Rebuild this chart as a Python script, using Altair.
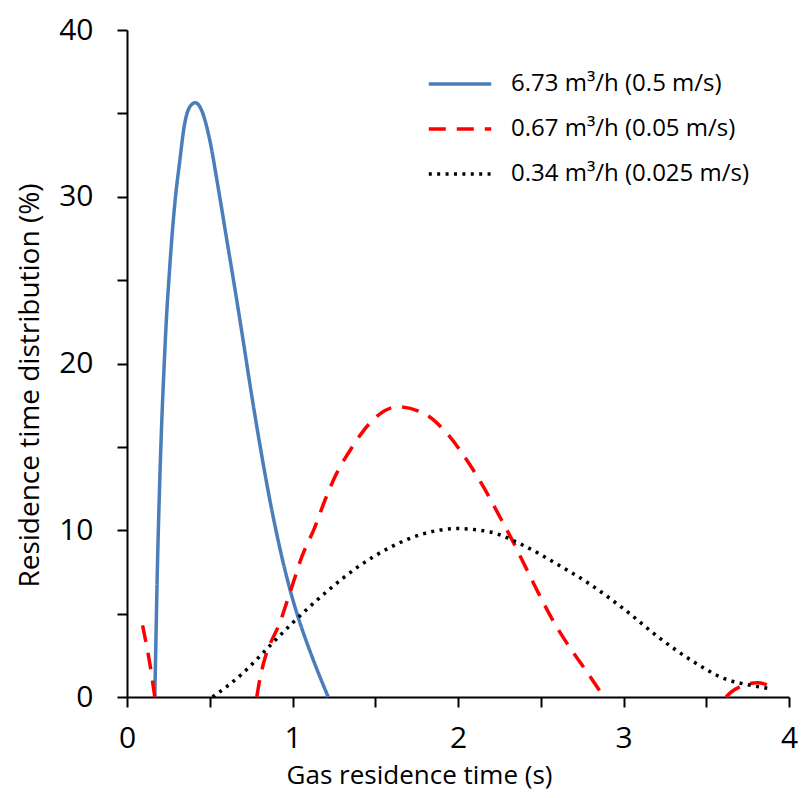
import altair as alt
import pandas as pd

series_names = ["6.73 m³/h (0.5 m/s)", "0.67 m³/h (0.05 m/s)", "0.34 m³/h (0.025 m/s)"]
series_colors = ["#4a7ebb", "#ff0000", "#000000"]
series_dashes = [[1, 0], [17, 11], [3, 5.4]]

# 6.73 m3/h
blue_x = [0.168, 0.175, 0.182, 0.195, 0.21, 0.225, 0.24, 0.253, 0.267, 0.293, 0.317, 0.347,
          0.38, 0.413, 0.45, 0.50, 0.55, 0.60, 0.65, 0.70, 0.75, 0.80, 0.85, 0.90, 0.95,
          1.00, 1.05, 1.10, 1.15, 1.216]
blue_y = [0.0, 3.5, 7.0, 12.0, 16.5, 20.0, 23.0, 25.0, 27.0, 30.0, 32.0, 34.3,
          35.4, 35.64, 35.2, 33.4, 30.6, 27.6, 24.6, 21.5, 18.3, 15.3, 12.5, 10.0, 7.8,
          5.9, 4.3, 2.9, 1.6, 0.0]

# 0.67 m3/h (three pieces)
red_seg = [0, 0, 0] + [1] * 23 + [2] * 4
red_x = [0.094, 0.138, 0.168,
         0.784, 0.796, 0.936, 0.996, 1.056, 1.136, 1.196, 1.266, 1.355, 1.465, 1.635, 1.795,
         1.934, 2.054, 2.154, 2.253, 2.333, 2.413, 2.493, 2.573, 2.673, 2.772, 2.882,
         3.62, 3.651, 3.81, 3.90]
red_y = [4.3, 2.0, 0.0,
         0.0, 0.7, 4.8, 6.6, 8.4, 10.2, 11.8, 13.4, 14.9, 16.4, 17.4, 17.0,
         15.8, 14.2, 12.6, 10.8, 9.3, 7.7, 6.1, 4.6, 3.0, 1.6, 0.0,
         0.0, 0.3, 0.86, 0.58]

# 0.34 m3/h
black_x = [0.517, 0.697, 0.856, 0.996, 1.216, 1.395, 1.595, 1.795, 1.994, 2.193, 2.393,
           2.593, 2.792, 3.012, 3.21, 3.41, 3.61, 3.77, 3.88]
black_y = [0.0, 1.4, 3.0, 4.4, 6.4, 7.8, 9.0, 9.8, 10.1, 9.9, 9.1,
           8.0, 6.8, 5.2, 3.6, 2.2, 1.1, 0.7, 0.5]

rows = []
for x, y in zip(blue_x, blue_y):
    rows.append({"t": x, "v": y, "s": series_names[0], "seg": "b"})
for x, y, g in zip(red_x, red_y, red_seg):
    rows.append({"t": x, "v": y, "s": series_names[1], "seg": f"r{g}"})
for x, y in zip(black_x, black_y):
    rows.append({"t": x, "v": y, "s": series_names[2], "seg": "k"})
df = pd.DataFrame(rows)

font = "Open Sans"

legend = alt.Legend(title=None, orient="none", legendX=300, legendY=21,
                    symbolType="stroke", symbolSize=3900, symbolStrokeWidth=3.5,
                    labelFont=font, labelFontSize=24, labelColor="black", labelLimit=400,
                    rowPadding=-2, labelOffset=18)

chart = alt.Chart(df).mark_line(strokeWidth=3.5, interpolate="monotone", strokeCap="butt").encode(
    x=alt.X("t:Q", scale=alt.Scale(domain=[0, 4], nice=False),
            axis=alt.Axis(title="Gas residence time (s)",
                          values=[0, 0.5, 1, 1.5, 2, 2.5, 3, 3.5, 4],
                          labelExpr="datum.value % 1 === 0 ? format(datum.value, 'd') : ''",
                          labelFlush=False, labelOverlap=False,
                          grid=False, domainColor="black", domainWidth=2,
                          tickColor="black", tickWidth=2, tickSize=10,
                          labelFont=font, labelFontSize=30, labelColor="black",
                          labelPadding=16, titleFont=font, titleFontSize=26,
                          titleFontWeight="normal", titleColor="black",
                          titleX=292, titleY=78, titleBaseline="middle", titleAlign="center")),
    y=alt.Y("v:Q", scale=alt.Scale(domain=[0, 40], nice=False),
            axis=alt.Axis(title="Residence time distribution (%)",
                          values=[0, 5, 10, 15, 20, 25, 30, 35, 40],
                          labelExpr="datum.value % 10 === 0 ? format(datum.value, 'd') : ''",
                          labelFlush=False, labelOverlap=False,
                          grid=False, domainColor="black", domainWidth=2,
                          tickColor="black", tickWidth=2, tickSize=10,
                          labelFont=font, labelFontSize=30, labelColor="black",
                          labelPadding=24, titleFont=font, titleFontSize=28,
                          titleFontWeight="normal", titleColor="black",
                          titleX=-97, titleY=355, titleBaseline="middle", titleAlign="center",
                          titleAngle=270)),
    color=alt.Color("s:N", scale=alt.Scale(domain=series_names, range=series_colors), legend=legend),
    strokeDash=alt.StrokeDash("s:N", scale=alt.Scale(domain=series_names, range=series_dashes),
                              legend=legend),
    detail="seg:N",
    order="t:Q",
).properties(
    width=662, height=667,
    autosize=alt.AutoSizeParams(type="none"),
    padding={"left": 119, "top": 22, "right": 9, "bottom": 93},
).configure_view(stroke=None)

chart.save("out.html", embed_options={"renderer": "svg", "actions": False})
